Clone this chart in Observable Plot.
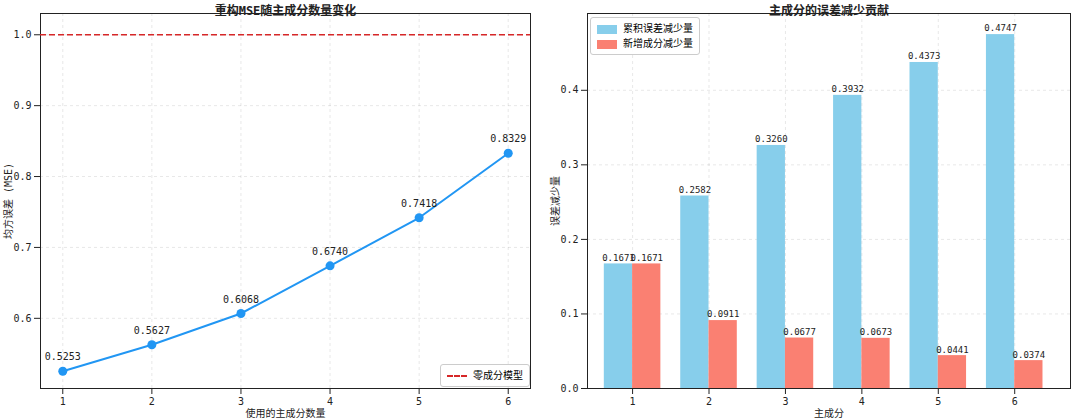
<!DOCTYPE html>
<html><head><meta charset="utf-8">
<script src="https://cdn.jsdelivr.net/npm/d3@7"></script>
<script src="https://cdn.jsdelivr.net/npm/@observablehq/plot@0.6"></script>
<style>
body{margin:0;background:#fff;font-family:"DejaVu Sans Mono","Noto Sans CJK SC",monospace;}
#wrap{position:relative;width:1080px;height:419px;display:flex;}
.lg{position:absolute;background:rgba(255,255,255,0.9);border:1px solid #ccc;border-radius:3px;font-size:10px;padding:3px 6px;line-height:15px;}
.sw{display:inline-block;vertical-align:middle;margin-right:6px;}
</style></head><body>
<div id="wrap"></div>
<script>
const comps=[1,2,3,4,5,6];
const mse=[0.5253,0.5627,0.6068,0.6740,0.7418,0.8329];
const cumRed=[0.1671,0.2582,0.3260,0.3932,0.4373,0.4747];
const newRed=[0.1671,0.0911,0.0677,0.0673,0.0441,0.0374];
const baseline=1.0;
const font='"DejaVu Sans Mono","Noto Sans CJK SC",monospace';
const wrap=document.getElementById("wrap");

const left=Plot.plot({
  width:545,height:419,marginLeft:40,marginRight:15,marginTop:13,marginBottom:31,
  style:{fontFamily:font,fontSize:"10px",color:"#222"},
  x:{domain:[0.75,6.25],ticks:comps,tickFormat:d=>d,label:"使用的主成分数量",labelArrow:"none",labelAnchor:"center",labelOffset:28,grid:true},
  y:{domain:[0.501,1.03],ticks:[0.6,0.7,0.8,0.9,1.0],tickFormat:d=>d.toFixed(1),label:"均方误差 (MSE)",labelArrow:"none",labelAnchor:"center",labelOffset:36,grid:true},
  marks:[
    Plot.frame(),
    Plot.ruleY([baseline],{stroke:"#d62728",strokeWidth:1.5,strokeDasharray:"6,3"}),
    Plot.line(comps,{x:d=>d,y:(d,i)=>mse[i],stroke:"#2196F3",strokeWidth:2}),
    Plot.dot(comps,{x:d=>d,y:(d,i)=>mse[i],fill:"#2196F3",r:4.5}),
    Plot.text(comps,{x:d=>d,y:(d,i)=>mse[i],text:(d,i)=>mse[i].toFixed(4),dy:-14,fontSize:10}),
    Plot.text(["重构MSE随主成分数量变化"],{frameAnchor:"top",dy:-7,fontSize:12,fontWeight:"bold"})
  ]
});
left.querySelectorAll("[aria-label$='grid'] line").forEach(l=>{l.setAttribute("stroke-dasharray","3,3");});
const right=Plot.plot({
  width:535,height:419,marginLeft:42,marginRight:10,marginTop:13,marginBottom:31,
  style:{fontFamily:font,fontSize:"10px",color:"#222"},
  x:{domain:[0.41,6.73],ticks:comps,tickFormat:d=>d,label:"主成分",labelArrow:"none",labelAnchor:"center",labelOffset:28},
  y:{domain:[0,0.503],ticks:[0,0.1,0.2,0.3,0.4],tickFormat:d=>d.toFixed(1),label:"误差减少量",labelArrow:"none",labelAnchor:"center",labelOffset:36,grid:true},
  marks:[
    Plot.frame(),
    Plot.gridX(comps,{strokeDasharray:"3,3"}),
    Plot.rectY(comps,{x1:d=>d-0.37,x2:d=>d,y:(d,i)=>cumRed[i],fill:"#87CEEB"}),
    Plot.rectY(comps,{x1:d=>d,x2:d=>d+0.37,y:(d,i)=>newRed[i],fill:"#FA8072"}),
    Plot.text(comps,{x:d=>d-0.185,y:(d,i)=>cumRed[i],text:(d,i)=>cumRed[i].toFixed(4),dy:-6,fontSize:9}),
    Plot.text(comps,{x:d=>d+0.185,y:(d,i)=>newRed[i],text:(d,i)=>newRed[i].toFixed(4),dy:-6,fontSize:9}),
    Plot.text(["主成分的误差减少贡献"],{frameAnchor:"top",dy:-7,fontSize:12,fontWeight:"bold"})
  ]
});
right.querySelectorAll("[aria-label$='grid'] line").forEach(l=>{l.setAttribute("stroke-dasharray","3,3");});
wrap.append(left,right);
wrap.insertAdjacentHTML("beforeend",
 `<div class="lg" style="left:440px;top:364px;"><span class="sw" style="width:20px;border-top:2px dashed #d62728;"></span>零成分模型</div>
  <div class="lg" style="left:590px;top:17px;"><div><span class="sw" style="width:20px;height:9px;background:#87CEEB"></span>累积误差减少量</div><div><span class="sw" style="width:20px;height:9px;background:#FA8072"></span>新增成分减少量</div></div>`);
</script></body></html>
